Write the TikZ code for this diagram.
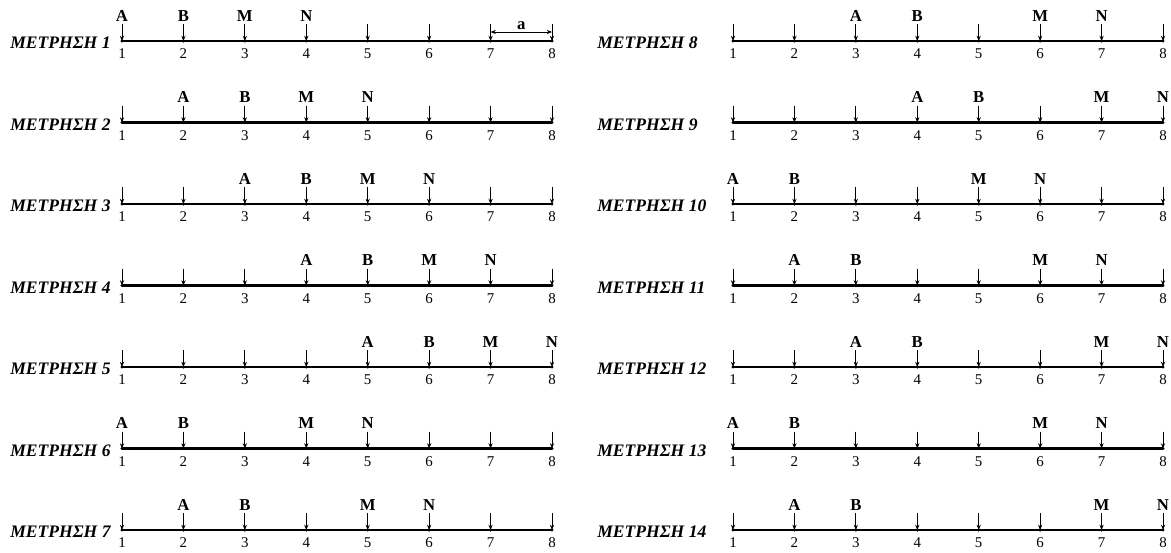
\documentclass[tikz,border=0pt]{standalone}
\usepackage{fontspec}
\setmainfont{Liberation Serif}
\usetikzlibrary{arrows.meta,calc,positioning}

\tikzset{
	rowlabel/.style={font=\bfseries\itshape\fontsize{10}{12}\selectfont, anchor=west, inner sep=0pt},
	probe/.style={-{Stealth[length=3pt,width=2.4pt]}, line width=0.45pt},
	letter/.style={font=\bfseries\fontsize{9.5}{11}\selectfont, inner sep=0pt},
	number/.style={font=\fontsize{8.5}{10}\selectfont, inner sep=0pt},
	cable/.style={line width=1.6pt},
}

\begin{document}
\begin{tikzpicture}[x=0.02cm, y=-0.02cm]
	%%%%% START %%%%%
	\useasboundingbox (0,0) rectangle (1171,552);
	
	% row / start x / label x / line y / A / B / M / N
	\foreach \r/\xs/\lx/\yy/\a/\b/\m/\n in {
		1/122/10/41/1/2/3/4, 2/122/10/122.5/2/3/4/5, 3/122/10/204/3/4/5/6,
		4/122/10/285.5/4/5/6/7, 5/122/10/367/5/6/7/8, 6/122/10/448.5/1/2/4/5,
		7/122/10/530/2/3/5/6,
		8/733/597/41/3/4/6/7, 9/733/597/122.5/4/5/7/8, 10/733/597/204/1/2/5/6,
		11/733/597/285.5/2/3/6/7, 12/733/597/367/3/4/7/8, 13/733/597/448.5/1/2/6/7,
		14/733/597/530/2/3/7/8} {
		
		\foreach \k in {1,...,8} {
			\coordinate (e\r-\k) at ({\xs+(\k-1)*61.43}, \yy);
			\coordinate (t\r-\k) at ({\xs+(\k-1)*61.43}, \yy-17);
			\node[number] (n\r-\k) at ({\xs+(\k-1)*61.43}, \yy+13) {\k};
		}
		\draw[cable] (e\r-1) -- (e\r-8);
		\foreach \k in {1,...,8} {
			\draw[probe] (t\r-\k) -- (e\r-\k);
			\fill (e\r-\k) circle (1.7);
		}
		
		\node[rowlabel] (lab\r) at (\lx, \yy+2) {ΜΕΤΡΗΣΗ \r};
		
		\node[letter, above=1.3pt of t\r-\a] (A\r) {A};
		\node[letter, above=1.3pt of t\r-\b] (B\r) {B};
		\node[letter, above=1.3pt of t\r-\m] (M\r) {M};
		\node[letter, above=1.3pt of t\r-\n] (N\r) {N};
	}
	
	% spacing a
	\coordinate (d7) at ($(e1-7)+(0,-9)$);
	\coordinate (d8) at ($(e1-8)+(0,-9)$);
	\draw[line width=0.45pt] (e1-7) -- ++(0,-15);
	\draw[line width=0.45pt] (e1-8) -- ++(0,-15);
	\draw[{Stealth[length=3pt,width=2.4pt]}-{Stealth[length=3pt,width=2.4pt]}, line width=0.45pt] (d7) -- node[letter, above=1pt] (dima) {a} (d8);
	
	%%%%% END %%%%%
\end{tikzpicture}
\end{document}
